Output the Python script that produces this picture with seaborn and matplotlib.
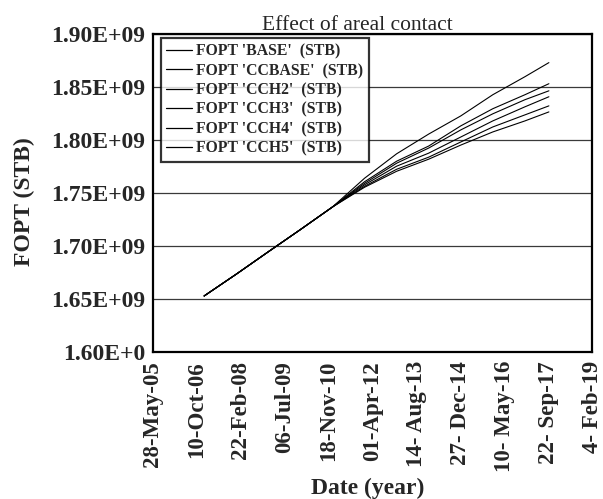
import matplotlib
matplotlib.use("Agg")
import matplotlib.pyplot as plt
import seaborn as sns
import pandas as pd

# ---------------- data ----------------
dates = ["2007-01-01", "2008-01-01", "2009-01-01", "2010-01-01", "2011-01-01",
         "2012-01-01", "2013-01-01", "2014-01-01", "2015-01-01", "2016-01-01",
         "2017-01-01", "2017-10-01"]

series_names = ["FOPT 'BASE'  (STB)", "FOPT 'CCBASE'  (STB)", "FOPT 'CCH2'  (STB)",
                "FOPT 'CCH3'  (STB)", "FOPT 'CCH4'  (STB)", "FOPT 'CCH5'  (STB)"]

base   = [1.6529, 1.6734, 1.6946, 1.7155, 1.7368, 1.7639, 1.7870, 1.8056, 1.8227, 1.8427, 1.8597, 1.8730]
ccbase = [1.6529, 1.6734, 1.6946, 1.7155, 1.7368, 1.7606, 1.7800, 1.7943, 1.8133, 1.8295, 1.8427, 1.8531]
cch2   = [1.6529, 1.6734, 1.6946, 1.7155, 1.7368, 1.7591, 1.7781, 1.7924, 1.8095, 1.8247, 1.8380, 1.8464]
cch3   = [1.6529, 1.6734, 1.6946, 1.7155, 1.7368, 1.7577, 1.7753, 1.7876, 1.8028, 1.8180, 1.8313, 1.8408]
cch4   = [1.6529, 1.6734, 1.6946, 1.7155, 1.7368, 1.7563, 1.7724, 1.7838, 1.7981, 1.8123, 1.8237, 1.8322]
cch5   = [1.6529, 1.6734, 1.6946, 1.7155, 1.7368, 1.7554, 1.7705, 1.7819, 1.7952, 1.8076, 1.8180, 1.8265]

y_ticks = [1.60e9, 1.65e9, 1.70e9, 1.75e9, 1.80e9, 1.85e9, 1.90e9]
y_tick_labels = ["1.60E+0", "1.65E+09", "1.70E+09", "1.75E+09", "1.80E+09", "1.85E+09", "1.90E+09"]

x_tick_dates = ["2005-05-28", "2006-10-10", "2008-02-22", "2009-07-06", "2010-11-18",
                "2012-04-01", "2013-08-14", "2014-12-27", "2016-05-10", "2017-09-22",
                "2019-02-04"]
x_tick_labels = ["28-May-05", "10-Oct-06", "22-Feb-08", "06-Jul-09", "18-Nov-10",
                 "01-Apr-12", "14- Aug-13", "27- Dec-14", "10- May-16", "22- Sep-17",
                 "4- Feb-19"]

# ---------------- build table ----------------
all_vals = [base, ccbase, cch2, cch3, cch4, cch5]
rows = []
for name, vals in zip(series_names, all_vals):
    for d, v in zip(dates, vals):
        rows.append({"date": pd.Timestamp(d), "fopt": v * 1e9, "series": name})
df = pd.DataFrame(rows)

# ---------------- style ----------------
sns.set_style("white")
plt.rcParams["font.family"] = ["Liberation Serif", "DejaVu Serif"]

W, H = 603, 499
fig = plt.figure(figsize=(W / 100, H / 100), dpi=100)
ax = fig.add_axes([153 / W, 1 - 352 / H, (592 - 153) / W, (352 - 34) / H])

sns.lineplot(data=df, x="date", y="fopt", hue="series", hue_order=series_names,
             palette=["black"] * 6, linewidth=0.8, ax=ax, legend=True)

xt = pd.to_datetime(x_tick_dates)
ax.set_xlim(xt[0], xt[-1])
ax.set_ylim(1.60e9, 1.90e9)

ax.set_yticks(y_ticks)
ax.set_yticklabels(y_tick_labels, fontsize=17, fontweight="bold")
ax.set_xticks(xt)
ax.set_xticklabels(x_tick_labels, fontsize=16.5, fontweight="bold", rotation=90)

ax.tick_params(axis="both", direction="out", length=5, width=1, color="black")
ax.tick_params(axis="y", pad=0.5)
ax.tick_params(axis="x", pad=1.5)
ax.yaxis.grid(True, color="#3a3a3a", linewidth=0.9)
ax.xaxis.grid(False)
for s in ax.spines.values():
    s.set_visible(True)
    s.set_color("black")
    s.set_linewidth(1.6)

ax.set_xlabel("")
ax.set_ylabel("")
fig.text(368 / W, 1 - 494 / H, "Date (year)", ha="center", va="baseline",
         fontsize=17, fontweight="bold")
fig.text(24 / W, 1 - 202 / H, "FOPT (STB)", ha="center", va="center", rotation=90,
         fontsize=17, fontweight="bold")
fig.text(357.5 / W, 1 - 30 / H, "Effect of areal contact", ha="center", va="baseline",
         fontsize=15.5)

handles, labels = ax.get_legend_handles_labels()
leg = ax.legend(handles, labels, loc="upper left",
                bbox_to_anchor=(161 / W, 1 - 38 / H), bbox_transform=fig.transFigure,
                borderaxespad=0, frameon=True, fancybox=False, shadow=False,
                prop={"family": ["Liberation Serif"], "weight": "bold", "size": 11.3},
                handlelength=1.6, handletextpad=0.3, labelspacing=0.22, borderpad=0.35)
leg.get_frame().set_edgecolor("black")
leg.get_frame().set_linewidth(1.6)
for l in leg.get_lines():
    l.set_linewidth(0.9)

fig.savefig("out.png", dpi=100)
